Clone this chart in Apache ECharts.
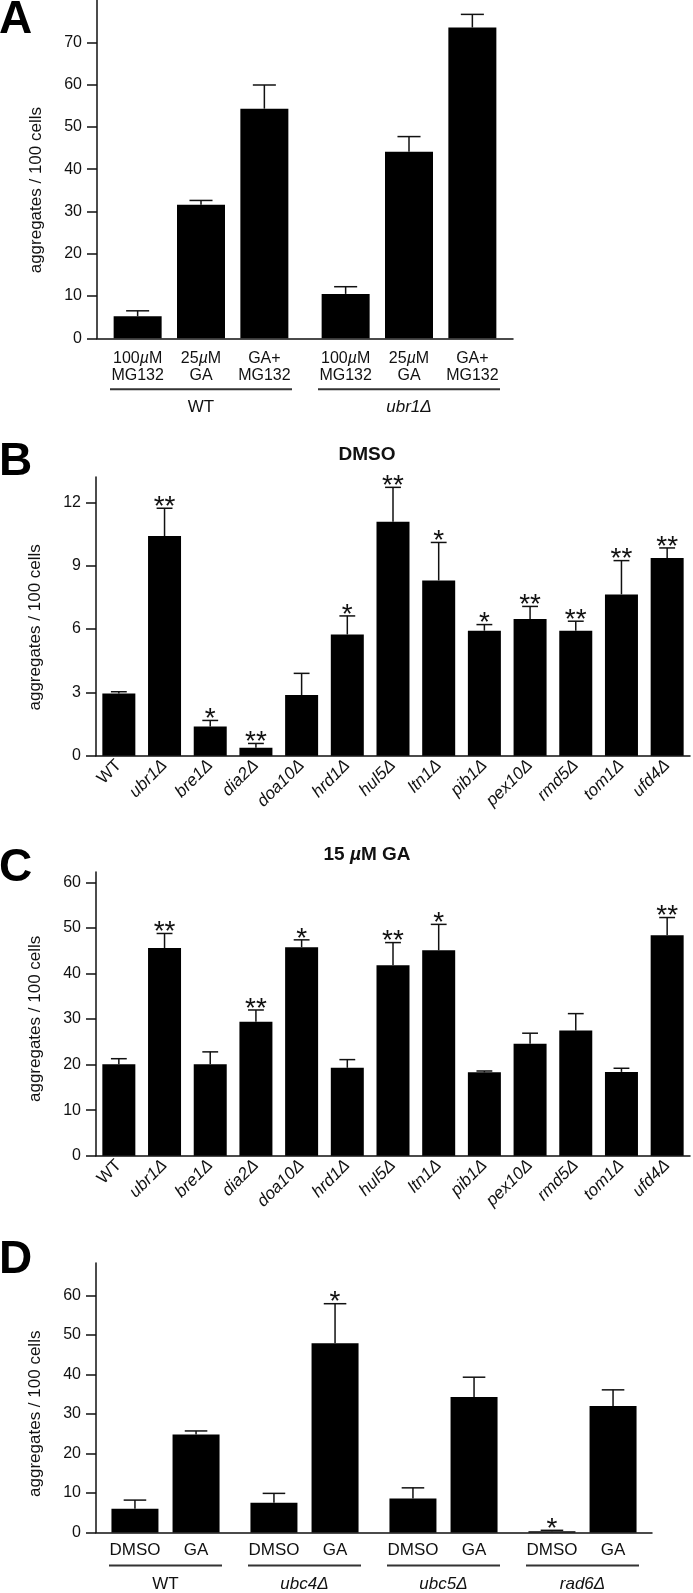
<!DOCTYPE html>
<html>
<head>
<meta charset="utf-8">
<script src="https://cdn.jsdelivr.net/npm/echarts@6/dist/echarts.min.js"></script>
<style>
  html, body { margin: 0; padding: 0; background: #fff; }
  #main { width: 693px; height: 1593px; }
</style>
</head>
<body>
<div id="main"></div>
<script>
// ---- panel A : GA / MG132 in WT and ubr1 ----
var aGroups = ['WT', 'ubr1Δ'];
var aTreatments = ['100µM\nMG132', '25µM\nGA', 'GA+\nMG132'];
var aMean = [[5.2, 10.5], [31.6, 44.1], [54.3, 73.5]];   // per treatment: [WT, ubr1]
var aErr = [[1.3, 1.7], [1.0, 3.6], [5.6, 3.1]];
var aTicks = [0, 10, 20, 30, 40, 50, 60, 70];

// ---- panels B and C : E3 deletion strains ----
var strains = ['WT', 'ubr1Δ', 'bre1Δ', 'dia2Δ', 'doa10Δ', 'hrd1Δ', 'hul5Δ', 'ltn1Δ', 'pib1Δ', 'pex10Δ', 'rmd5Δ', 'tom1Δ', 'ufd4Δ'];
var dmsoMean = [2.95, 10.4, 1.38, 0.38, 2.87, 5.74, 11.08, 8.3, 5.92, 6.47, 5.92, 7.64, 9.36];
var dmsoErr = [0.08, 1.32, 0.29, 0.2, 1.03, 0.88, 1.63, 1.8, 0.29, 0.6, 0.45, 1.6, 0.48];
var dmsoStars = ['', '**', '*', '**', '', '*', '**', '*', '*', '**', '**', '**', '**'];
var dmsoTicks = [0, 3, 6, 9, 12];

var gaMean = [20.1, 45.6, 20.1, 29.4, 45.8, 19.3, 41.8, 45.1, 18.3, 24.6, 27.5, 18.4, 48.4];
var gaErr = [1.2, 3.2, 2.7, 2.6, 1.6, 1.8, 5.0, 5.7, 0.3, 2.3, 3.7, 0.8, 3.9];
var gaStars = ['', '**', '', '**', '*', '', '**', '*', '', '', '', '', '**'];
var gaTicks = [0, 10, 20, 30, 40, 50, 60];

// ---- panel D : E2 deletion strains ----
var dGroups = ['WT', 'ubc4Δ', 'ubc5Δ', 'rad6Δ'];
var dTreatments = ['DMSO', 'GA'];
var dMean = [[6.0, 7.5, 8.6, 0.3], [24.8, 47.9, 34.3, 32.0]];
var dErr = [[2.2, 2.4, 2.7, 0.25], [0.9, 10.0, 5.0, 4.1]];
var dStars = [['', '', '', '*'], ['', '*', '', '']];
var dTicks = [0, 10, 20, 30, 40, 50, 60];

var FONT = 'Liberation Sans';
var INK = '#111';

var chart = echarts.init(document.getElementById('main'), null, { renderer: 'canvas' });

function yAxisFor(grid, max, ticks, shift) {
  return {
    type: 'value', gridIndex: grid, min: 0, max: max,
    name: 'aggregates / 100 cells', nameLocation: 'middle', nameGap: 52,
    nameTextStyle: { fontSize: 17, color: INK, fontFamily: FONT, padding: [0, 2 * shift, 0, 0] },
    axisLine: { show: true, lineStyle: { color: INK, width: 1.5 } },
    axisTick: { show: true, inside: false, length: 10, customValues: ticks, lineStyle: { color: INK, width: 1.5 } },
    axisLabel: { customValues: ticks, fontSize: 16, color: INK, margin: 15, fontFamily: FONT },
    splitLine: { show: false }
  };
}

function italicName(v) {
  return v === 'WT' ? '{n|' + v + '}' : '{i|' + v + '}';
}

function strainAxis(grid) {
  return {
    type: 'category', gridIndex: grid, data: strains,
    axisLine: { lineStyle: { color: INK, width: 1.5 } },
    axisTick: { show: false },
    axisLabel: {
      interval: 0, rotate: 45, margin: 7, formatter: italicName,
      rich: {
        n: { fontSize: 17, color: INK, fontFamily: FONT },
        i: { fontSize: 17, color: INK, fontFamily: FONT, fontStyle: 'italic' }
      }
    }
  };
}

function groupAxis(grid, groups, lineW, margin, lh) {
  return {
    type: 'category', gridIndex: grid, data: groups,
    axisLine: { lineStyle: { color: INK, width: 1.5 } },
    axisTick: { show: false },
    axisLabel: {
      interval: 0, margin: margin,
      formatter: function (v) { return '{bar| }\n' + italicName(v); },
      rich: {
        bar: { width: lineW, height: 2, lineHeight: 2, backgroundColor: '#333', fontSize: 2 },
        n: { fontSize: 17, lineHeight: lh, color: INK, fontFamily: FONT },
        i: { fontSize: 17, lineHeight: lh, color: INK, fontFamily: FONT, fontStyle: 'italic' }
      }
    }
  };
}

function errorSeries(axis, means, errs, stars, barW, nSeries, sIdx, gap) {
  var data = means.map(function (m, i) { return [i, m, errs[i]]; });
  return {
    type: 'custom', xAxisIndex: axis, yAxisIndex: axis, z: 5, silent: true,
    data: data,
    renderItem: function (params, api) {
      var i = api.value(0), m = api.value(1), e = api.value(2);
      var base = api.coord([i, m]);
      var top = api.coord([i, m + e]);
      var step = barW * (1 + gap);
      var total = nSeries * barW + (nSeries - 1) * barW * gap;
      var x = base[0] - total / 2 + barW / 2 + sIdx * step;
      var cap = barW * 0.24;
      var st = { stroke: INK, lineWidth: 1.5 };
      var kids = [
        { type: 'line', shape: { x1: x, y1: base[1], x2: x, y2: top[1] }, style: st },
        { type: 'line', shape: { x1: x - cap, y1: top[1], x2: x + cap, y2: top[1] }, style: st }
      ];
      var s = stars ? stars[params.dataIndex] : '';
      if (s) {
        kids.push({
          type: 'text', x: x, y: top[1] - 1,
          style: { text: s, align: 'center', verticalAlign: 'middle', fontSize: 28, fill: INK, fontFamily: FONT }
        });
      }
      return { type: 'group', children: kids };
    }
  };
}

function treatLabel(name) {
  return name.replace('µ', '{mu|µ}');
}

var series = [];

// A
aTreatments.forEach(function (t, k) {
  series.push({
    type: 'bar', name: t, xAxisIndex: 0, yAxisIndex: 0, data: aMean[k],
    barWidth: 48, barGap: '32%', itemStyle: { color: '#000' }, silent: true,
    label: {
      show: true, position: 'bottom', distance: 12, formatter: treatLabel(t),
      fontSize: 16, lineHeight: 17, color: INK, fontFamily: FONT,
      rich: { mu: { fontSize: 16, lineHeight: 17, color: INK, fontFamily: FONT, fontStyle: 'italic' } }
    }
  });
  series.push(errorSeries(0, aMean[k], aErr[k], null, 48, 3, k, 0.32));
});

// B
series.push({ type: 'bar', xAxisIndex: 1, yAxisIndex: 1, data: dmsoMean, barWidth: 33, itemStyle: { color: '#000' }, silent: true });
series.push(errorSeries(1, dmsoMean, dmsoErr, dmsoStars, 33, 1, 0, 0));

// C
series.push({ type: 'bar', xAxisIndex: 2, yAxisIndex: 2, data: gaMean, barWidth: 33, itemStyle: { color: '#000' }, silent: true });
series.push(errorSeries(2, gaMean, gaErr, gaStars, 33, 1, 0, 0));

// D
dTreatments.forEach(function (t, k) {
  series.push({
    type: 'bar', name: t, xAxisIndex: 3, yAxisIndex: 3, data: dMean[k],
    barWidth: 47, barGap: '30%', itemStyle: { color: '#000' }, silent: true,
    label: { show: true, position: 'bottom', distance: 9, formatter: t, fontSize: 17, color: INK, fontFamily: FONT }
  });
  series.push(errorSeries(3, dMean[k], dErr[k], dStars[k], 47, 2, k, 0.30));
});

function letter(txt, top) {
  return { text: txt, left: -1, top: top, padding: 0, textStyle: { fontSize: 46, fontWeight: 'bold', color: '#000', fontFamily: FONT } };
}

var option = {
  animation: false,
  backgroundColor: '#fff',
  title: [
    letter('A', -3),
    letter('B', 439),
    letter('C', 845),
    letter('D', 1237),
    { text: 'DMSO', left: 367, top: 445, textAlign: 'center', padding: 0,
      textStyle: { fontSize: 19, fontWeight: 'bold', color: INK, fontFamily: FONT } },
    { text: '15 {mu|µ}M GA', left: 367, top: 845, textAlign: 'center', padding: 0,
      textStyle: { fontSize: 19, fontWeight: 'bold', color: INK, fontFamily: FONT,
        rich: { mu: { fontSize: 19, fontWeight: 'bold', fontStyle: 'italic', color: INK, fontFamily: FONT } } } }
  ],
  grid: [
    { left: 97, top: 0, width: 416, height: 338.3 },
    { left: 96, top: 477, width: 594, height: 278.7 },
    { left: 96, top: 872, width: 594, height: 283.7 },
    { left: 96, top: 1263, width: 556, height: 274.7 }
  ],
  xAxis: [
    groupAxis(0, aGroups, 182, 50, 34),
    strainAxis(1),
    strainAxis(2),
    groupAxis(3, dGroups, 113, 32, 36)
  ],
  yAxis: [
    yAxisFor(0, 80, aTicks, 21),
    yAxisFor(1, 13.2, dmsoTicks, 11),
    yAxisFor(2, 62.3, gaTicks, 5),
    yAxisFor(3, 68.2, dTicks, 16)
  ],
  series: series
};

chart.setOption(option);
</script>
</body>
</html>
